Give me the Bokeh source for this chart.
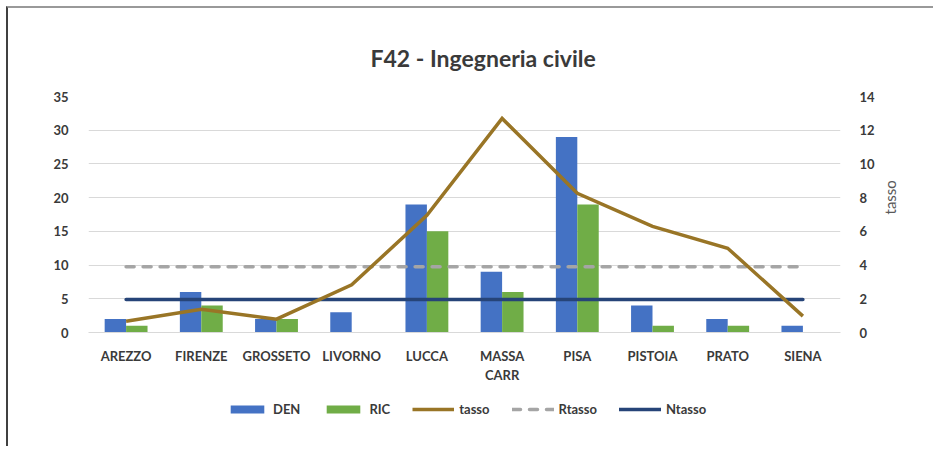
from bokeh.plotting import figure
from bokeh.models import (Range1d, LinearAxis, FixedTicker, Legend, LegendItem, Title)
from bokeh.layouts import column
from bokeh.transform import dodge
from bokeh.models import ColumnDataSource
from bokeh.embed import file_html
from bokeh.resources import INLINE
import numpy as np

categories = ["AREZZO", "FIRENZE", "GROSSETO", "LIVORNO", "LUCCA", "MASSA CARR",
              "PISA", "PISTOIA", "PRATO", "SIENA"]
tick_labels = ["AREZZO", "FIRENZE", "GROSSETO", "LIVORNO", "LUCCA", "MASSA\nCARR",
               "PISA", "PISTOIA", "PRATO", "SIENA"]
DEN = [2, 6, 2, 3, 19, 9, 29, 4, 2, 1]
RIC = [1, 4, 2, 0, 15, 6, 19, 1, 1, 0]
tasso = [0.67, 1.38, 0.79, 2.83, 6.95, 12.7, 8.26, 6.29, 5.0, 0.97]
Rtasso = [3.9] * 10
Ntasso = [1.96] * 10
left_ticks = [0, 5, 10, 15, 20, 25, 30, 35]
right_ticks = [0, 2, 4, 6, 8, 10, 12, 14]

xc = [i + 0.5 for i in range(len(categories))]
src = ColumnDataSource(dict(x=xc, DEN=DEN, RIC=RIC, tasso=tasso, Rtasso=Rtasso, Ntasso=Ntasso))

FONT = "Lato"
TXT = "#3a3a3a"
C_DEN, C_RIC, C_T, C_R, C_N = "#4472C4", "#70AD47", "#997526", "#A5A5A5", "#264478"
LW = 3.5
DASH = "8 9"

p = figure(width=925, height=388, output_backend="svg", toolbar_location=None,
           x_range=Range1d(0, len(categories)), y_range=Range1d(0, 35),
           min_border_left=80, min_border_right=93, min_border_top=88, min_border_bottom=64)
p.outline_line_color = None
p.extra_y_ranges = {"tasso": Range1d(0, 14)}

bw = 0.285
p.vbar(x=dodge("x", -bw / 2, range=p.x_range), top="DEN", width=bw, source=src,
       fill_color=C_DEN, line_color=None)
p.vbar(x=dodge("x", bw / 2, range=p.x_range), top="RIC", width=bw, source=src,
       fill_color=C_RIC, line_color=None)
p.line("x", "Rtasso", source=src, y_range_name="tasso", line_color=C_R,
       line_width=LW, line_dash=DASH, line_cap="round")
p.line("x", "Ntasso", source=src, y_range_name="tasso", line_color=C_N,
       line_width=LW, line_cap="round")
p.line("x", "tasso", source=src, y_range_name="tasso", line_color=C_T,
       line_width=LW, line_join="miter")

# title
p.add_layout(Title(text="F42 - Ingegneria civile", align="left", offset=282,
                   text_font=FONT, text_font_style="bold", text_font_size="23px",
                   text_color=TXT, standoff=50), "above")

# axes
p.xaxis.ticker = FixedTicker(ticks=xc)
p.xaxis.major_label_overrides = {x: t for x, t in zip(xc, tick_labels)}
p.xaxis.axis_line_color = "#d9d9d9"
p.xaxis.major_tick_line_color = None
p.xaxis.minor_tick_line_color = None
p.xaxis.major_label_standoff = 9
p.xaxis.major_label_text_font = FONT
p.xaxis.major_label_text_font_style = "bold"
p.xaxis.major_label_text_font_size = "13px"
p.xaxis.major_label_text_color = TXT
p.xgrid.grid_line_color = None

p.yaxis.ticker = FixedTicker(ticks=left_ticks)
p.yaxis.axis_line_color = None
p.yaxis.major_tick_line_color = None
p.yaxis.minor_tick_line_color = None
p.yaxis.major_label_standoff = 14
p.yaxis.major_label_text_font = FONT
p.yaxis.major_label_text_font_style = "bold"
p.yaxis.major_label_text_font_size = "13px"
p.yaxis.major_label_text_color = TXT
p.ygrid.ticker = FixedTicker(ticks=left_ticks)
p.ygrid.grid_line_color = "#d9d9d9"
p.ygrid.grid_line_width = 1

ax2 = LinearAxis(y_range_name="tasso", ticker=FixedTicker(ticks=right_ticks), axis_label="tasso")
ax2.axis_line_color = None
ax2.major_tick_line_color = None
ax2.minor_tick_line_color = None
ax2.major_label_standoff = 13
ax2.major_label_text_font = FONT
ax2.major_label_text_font_style = "bold"
ax2.major_label_text_font_size = "13px"
ax2.major_label_text_color = TXT
ax2.axis_label_text_font = FONT
ax2.axis_label_text_font_style = "normal"
ax2.axis_label_text_font_size = "15px"
ax2.axis_label_text_color = "#595959"
ax2.axis_label_standoff = 12
ax2.axis_label_orientation = np.pi / 2
p.add_layout(ax2, "right")

# legend strip (own figure below the chart); its ranges keep the series out of view
lg = figure(width=925, height=50, output_backend="svg", toolbar_location=None,
            x_range=Range1d(100, 101), y_range=Range1d(100, 101),
            x_axis_location=None, y_axis_location=None,
            min_border_left=0, min_border_right=0, min_border_top=0, min_border_bottom=0)
lg.outline_line_color = None
lg.grid.visible = False
g_den = lg.vbar(x="x", top="DEN", width=0.1, source=src, fill_color=C_DEN, line_color=None)
g_ric = lg.vbar(x="x", top="RIC", width=0.1, source=src, fill_color=C_RIC, line_color=None)
g_t = lg.line("x", "tasso", source=src, line_color=C_T, line_width=LW)
g_r = lg.line("x", "Rtasso", source=src, line_color=C_R, line_width=LW, line_dash=DASH, line_cap="round")
g_n = lg.line("x", "Ntasso", source=src, line_color=C_N, line_width=LW, line_cap="round")

legend = Legend(items=[LegendItem(label="DEN", renderers=[g_den]),
                       LegendItem(label="RIC", renderers=[g_ric]),
                       LegendItem(label="tasso", renderers=[g_t]),
                       LegendItem(label="Rtasso", renderers=[g_r]),
                       LegendItem(label="Ntasso", renderers=[g_n])],
                orientation="horizontal", location=(138, 29))
legend.glyph_width = 42
legend.glyph_height = 10
legend.label_height = 10
legend.label_standoff = 5
legend.spacing = 22
legend.padding = 0
legend.margin = 0
legend.border_line_color = None
legend.background_fill_alpha = 0
legend.label_text_font = FONT
legend.label_text_font_style = "bold"
legend.label_text_font_size = "13px"
legend.label_text_color = TXT
lg.add_layout(legend, "center")

layout = column(p, lg, spacing=0)
layout.styles = {"border-top": "2px solid #999999", "border-left": "2px solid #404040",
                 "margin-left": "6px", "margin-top": "6px"}

open("out.html", "w").write(file_html(layout, INLINE))
